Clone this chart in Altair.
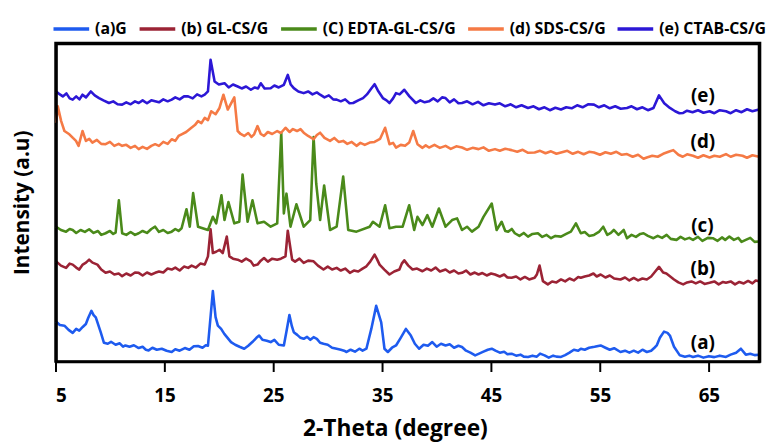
import altair as alt
import pandas as pd

series_names = ["(a)G", "(b) GL-CS/G", "(C) EDTA-GL-CS/G", "(d) SDS-CS/G", "(e) CTAB-CS/G"]
series_colors = ["#1E5BEF", "#9B2335", "#4A8A1A", "#F57A45", "#2C17D6"]

# (2-theta, intensity) pairs, one list per pattern
a_pts = [(5.06, 40.3), (5.4, 37), (5.82, 36.3), (6.2, 32), (6.58, 29), (6.9, 33), (7.18, 31.3), (7.5, 35),
         (7.79, 38), (8.0, 44), (8.30, 51.3), (8.5, 47), (8.70, 44.7), (9.15, 29.7), (9.45, 19), (9.8, 18),
         (10.1, 20), (10.52, 17), (10.9, 18.5), (11.2, 15), (11.42, 16.3), (11.8, 15), (12.2, 16.5),
         (12.64, 13.7), (13.0, 15), (13.3, 12), (13.55, 11.3), (13.9, 14), (14.3, 12), (14.76, 13),
         (15.2, 11), (15.67, 9.7), (16.0, 12.5), (16.4, 11), (16.88, 13.7), (17.3, 12), (17.7, 15.5),
         (18.09, 15.7), (18.5, 14), (18.8, 16.5), (19.0, 16), (19.45, 71.3), (19.7, 45), (19.91, 36.3),
         (20.21, 33), (20.5, 28), (20.8, 24), (21.12, 19.7), (21.5, 17), (21.9, 15), (22.33, 13), (22.7, 16),
         (23.1, 20), (23.45, 24), (23.7, 26.3), (24.0, 22), (24.4, 21), (24.76, 19.7), (25.1, 22), (25.5, 17),
         (25.97, 16.3), (26.2, 30), (26.48, 47), (26.7, 36), (26.88, 29.7), (27.2, 27), (27.5, 24),
         (27.79, 23), (28.1, 25), (28.4, 22), (28.70, 24.7), (29.0, 23), (29.3, 19), (29.61, 18), (30.0, 17),
         (30.4, 14), (30.82, 13), (31.2, 12), (31.5, 11), (31.73, 9.7), (32.1, 12), (32.5, 10), (32.9, 13),
         (33.2, 11), (33.55, 13), (34.0, 33), (34.45, 56.3), (34.91, 39.7), (35.21, 13), (35.52, 9.7),
         (35.9, 14), (36.27, 16.3), (36.7, 24), (37.18, 33), (37.63, 26.3), (38.0, 18), (38.39, 13),
         (38.8, 17), (39.2, 16), (39.6, 19.7), (40.0, 15), (40.4, 18), (40.82, 16.3), (41.2, 17.5),
         (41.6, 14), (42.0, 16), (42.33, 14.7), (42.7, 11), (43.1, 9), (43.54, 6.3), (43.9, 8), (44.3, 10),
         (44.7, 12), (45.06, 13), (45.4, 11), (45.8, 9), (46.2, 10), (46.5, 7.5), (46.88, 8), (47.3, 6),
         (47.7, 7), (48.0, 5), (48.39, 4.7), (48.8, 6), (49.2, 5), (49.5, 8), (49.91, 6.3), (50.3, 4),
         (50.7, 6), (51.0, 5), (51.42, 4.7), (51.8, 6.5), (52.2, 9), (52.6, 12), (53.0, 11), (53.24, 13),
         (53.6, 12), (54.0, 14), (54.5, 15), (55.06, 16.3), (55.5, 14), (55.9, 12), (56.3, 13.5),
         (56.88, 9.7), (57.3, 11), (57.7, 9), (58.1, 11), (58.5, 9), (58.9, 12), (59.3, 9.7), (59.7, 11),
         (60.0, 14), (60.21, 16.3), (60.5, 24), (60.88, 30.3), (61.2, 29), (61.42, 26.3), (61.8, 15),
         (62.33, 6.3), (62.8, 5), (63.2, 6), (63.54, 4.7), (64.0, 6), (64.5, 4), (65.0, 5.5), (65.5, 4.5),
         (66.0, 6), (66.57, 4.7), (67.0, 7), (67.5, 9), (67.94, 13), (68.39, 7), (68.8, 8), (69.2, 6.5),
         (69.6, 7)]

b_pts = [(5.06, 101.3), (5.5, 97), (5.97, 94.7), (6.3, 99), (6.58, 98), (6.9, 95), (7.18, 93), (7.5, 98),
         (7.8, 100), (8.09, 103), (8.4, 100), (8.85, 98), (9.2, 93), (9.6, 89.7), (10.0, 91), (10.4, 88),
         (10.8, 89), (11.12, 86.3), (11.5, 89), (11.9, 87), (12.3, 90), (12.64, 89.7), (13.0, 87),
         (13.4, 90), (13.8, 88), (14.15, 89.7), (14.5, 91), (14.9, 90), (15.3, 94), (15.67, 93), (16.0, 95),
         (16.4, 92), (16.8, 96), (17.18, 94.7), (17.5, 97), (17.9, 95), (18.3, 99), (18.7, 98), (19.0, 106.3),
         (19.24, 133.7), (19.45, 109.7), (19.75, 111), (20.06, 113), (20.36, 109.7), (20.73, 126.3),
         (20.97, 106.3), (21.3, 104), (21.73, 103), (22.1, 101), (22.5, 104), (22.94, 101.3), (23.2, 97),
         (23.55, 98), (23.85, 102), (24.15, 104.7), (24.5, 101), (24.9, 104), (25.36, 103), (25.7, 104),
         (26.12, 106.3), (26.33, 132.3), (26.73, 103), (27.0, 101), (27.4, 104), (27.79, 99.7), (28.2, 102),
         (28.7, 101.3), (29.1, 97), (29.61, 93), (30.0, 96), (30.4, 93), (30.82, 94.7), (31.2, 92),
         (31.6, 94), (32.03, 89.7), (32.4, 92), (32.8, 91), (33.2, 94), (33.55, 96.3), (33.9, 101),
         (34.3, 108), (34.5, 104), (34.76, 98), (35.2, 93), (35.67, 88), (36.1, 91), (36.58, 93), (36.8, 99),
         (37.03, 102.3), (37.4, 97), (37.79, 93), (38.2, 94), (38.7, 91.3), (39.1, 94), (39.5, 92),
         (39.9, 95), (40.3, 91), (40.82, 93), (41.2, 90), (41.6, 92), (42.0, 89), (42.33, 89.7), (42.7, 92),
         (43.1, 88), (43.5, 90), (43.85, 88), (44.2, 89.5), (44.6, 87), (45.0, 89), (45.36, 88), (45.8, 86),
         (46.2, 88), (46.5, 85), (46.88, 84.7), (47.3, 86), (47.7, 83), (48.1, 85.5), (48.5, 83),
         (49.0, 84.7), (49.2, 88), (49.45, 97), (49.76, 81.3), (50.21, 78), (50.6, 81), (51.0, 80),
         (51.42, 83), (51.8, 81), (52.2, 84), (52.6, 82), (53.0, 85.5), (53.24, 84.7), (53.6, 86), (54.0, 87),
         (54.4, 89), (54.7, 86), (55.06, 88), (55.5, 85), (55.9, 87), (56.3, 84), (56.88, 83), (57.3, 85),
         (57.7, 82), (58.1, 84.5), (58.5, 82), (58.9, 84), (59.3, 83), (59.7, 86), (60.0, 90), (60.42, 95.7),
         (60.8, 90), (61.1, 89), (61.42, 86.3), (61.8, 83), (62.2, 80), (62.64, 78), (63.0, 80), (63.4, 81),
         (63.8, 79), (64.2, 81), (64.6, 78.5), (65.06, 79.7), (65.5, 81), (65.9, 78), (66.3, 80.5),
         (66.57, 79.7), (67.0, 81), (67.4, 78), (67.8, 80.5), (68.2, 79), (68.6, 81.5), (69.0, 79),
         (69.3, 82), (69.6, 81.3)]

c_pts = [(5.06, 136.3), (5.5, 133), (5.97, 131.3), (6.3, 134), (6.58, 133), (6.9, 130), (7.3, 133),
         (7.7, 131), (8.09, 133.7), (8.5, 130), (8.9, 132), (9.2, 128), (9.6, 129.7), (10.0, 132),
         (10.3, 129), (10.52, 130.3), (10.82, 163), (11.12, 129.7), (11.5, 128), (11.9, 131), (12.3, 128),
         (12.64, 129.7), (13.0, 132), (13.4, 130), (13.8, 134), (14.15, 136.3), (14.5, 131), (14.9, 133),
         (15.3, 130), (15.67, 131.3), (16.0, 134), (16.3, 132), (16.58, 134.7), (17.03, 154), (17.33, 136.3),
         (17.64, 170.3), (18.09, 136.3), (19.0, 133), (19.45, 146.3), (19.76, 139.7), (20.24, 168),
         (20.52, 143), (20.88, 161.3), (21.42, 139.7), (21.88, 141.3), (22.18, 189), (22.64, 141.3),
         (23.09, 163), (23.55, 139.7), (24.15, 141.3), (24.76, 136.3), (25.36, 139.7), (25.73, 231.3),
         (25.97, 149.7), (26.21, 169.7), (26.58, 136.3), (27.12, 159), (27.79, 136.3), (28.39, 143),
         (28.7, 227), (28.94, 180), (29.3, 143), (29.67, 178), (30.21, 133), (30.82, 136.3), (31.42, 187),
         (31.88, 133), (32.64, 131.3), (33.85, 136.3), (34.15, 141.3), (34.76, 136.3), (35.27, 158),
         (35.67, 134.7), (36.27, 136.3), (36.88, 136.3), (37.48, 158), (37.94, 133), (38.24, 146.3),
         (38.7, 138), (39.15, 148), (39.6, 136.3), (40.21, 154.7), (40.82, 136.3), (41.42, 143),
         (41.88, 144.7), (42.33, 133), (42.79, 136.3), (43.24, 131.3), (43.85, 136.3), (44.3, 146.3),
         (45.06, 159.7), (45.51, 133), (45.97, 141.3), (46.3, 132), (46.57, 131.3), (46.9, 134),
         (47.18, 129.7), (47.6, 127), (48.0, 130), (48.39, 126.3), (48.8, 129), (49.3, 129.7), (49.7, 126),
         (50.1, 128), (50.51, 124.7), (50.9, 127), (51.42, 126.3), (51.9, 129), (52.33, 131.3),
         (52.79, 139.7), (53.24, 129.7), (53.6, 131), (54.0, 127), (54.45, 128), (54.9, 131), (55.3, 136.3),
         (55.67, 128), (56.0, 130), (56.27, 133), (56.7, 128), (57.18, 133), (57.48, 124.7), (57.9, 128),
         (58.3, 126), (58.7, 129), (59.0, 129.7), (59.4, 127), (59.91, 124.7), (60.3, 127), (60.7, 125),
         (61.12, 128), (61.5, 124), (62.03, 123), (62.4, 126), (62.8, 123.5), (63.2, 125), (63.54, 123),
         (64.0, 126), (64.4, 122), (64.9, 125), (65.36, 124.7), (65.8, 122), (66.2, 125.5), (66.5, 123),
         (66.88, 126.3), (67.3, 123), (67.7, 125), (68.0, 121), (68.39, 123), (68.8, 125), (69.2, 121),
         (69.6, 121.3)]

d_pts = [(5.06, 241.3), (5.21, 258), (5.52, 243), (5.82, 233), (6.27, 229.7), (6.6, 226), (6.88, 223),
         (7.12, 218), (7.48, 233), (7.79, 223), (8.1, 225), (8.39, 221.3), (8.8, 224), (9.2, 220),
         (9.6, 219.7), (10.0, 222), (10.4, 218), (10.8, 220), (11.12, 218), (11.5, 219), (11.9, 216),
         (12.3, 218), (12.64, 214.7), (13.0, 217), (13.4, 215), (13.8, 218), (14.15, 219.7), (14.5, 218),
         (14.9, 222), (15.3, 220), (15.67, 224.7), (16.0, 223), (16.3, 228), (16.58, 229.7), (17.0, 232),
         (17.48, 236.3), (17.8, 239), (18.09, 243), (18.4, 241), (18.7, 246.3), (19.0, 244), (19.3, 253),
         (19.7, 250), (20.06, 256.3), (20.42, 269.7), (20.82, 254.7), (21.42, 267), (21.73, 233), (22.0, 230),
         (22.33, 228), (22.7, 231), (23.0, 227), (23.24, 229.7), (23.55, 238), (23.85, 230), (24.15, 228),
         (24.5, 232), (24.9, 230), (25.36, 233), (25.7, 231), (26.12, 236.3), (26.5, 232), (26.8, 235),
         (27.18, 233), (27.5, 235), (27.79, 231.3), (28.2, 228), (28.7, 224.7), (29.0, 229), (29.3, 231.3),
         (29.7, 226), (30.21, 223), (30.6, 226), (31.0, 222), (31.42, 223), (31.8, 220), (32.2, 222),
         (32.64, 218), (33.0, 221), (33.4, 219), (33.85, 221.3), (34.3, 222), (34.8, 225), (35.27, 236.3),
         (35.67, 219.7), (36.0, 221), (36.27, 216.3), (36.7, 219), (37.1, 218), (37.48, 221.3), (37.85, 233),
         (38.24, 219.7), (38.7, 216), (39.0, 218.5), (39.3, 216.3), (39.8, 219), (40.3, 216), (40.82, 218),
         (41.3, 215), (41.8, 217.5), (42.33, 216.3), (42.8, 214), (43.3, 216), (43.85, 214.7), (44.3, 216.5),
         (44.8, 213), (45.36, 214.7), (45.8, 213), (46.3, 215), (46.88, 213.7), (47.4, 212), (47.9, 214),
         (48.4, 211), (49.0, 211.3), (49.5, 213), (50.0, 210.5), (50.5, 212.5), (51.0, 210), (51.42, 211.3),
         (52.0, 213), (52.5, 210), (53.0, 212), (53.5, 209.5), (54.0, 212), (54.45, 211.3), (55.0, 209),
         (55.5, 211.5), (56.0, 210), (56.5, 212), (57.0, 209), (57.48, 209.7), (58.0, 207), (58.5, 209),
         (59.0, 205), (59.3, 206.3), (59.8, 208), (60.3, 207), (60.8, 210), (61.3, 212), (61.73, 213.7),
         (62.2, 209), (62.6, 207), (63.0, 209.5), (63.54, 208), (64.0, 206), (64.5, 208.5), (65.06, 206.3),
         (65.5, 208), (66.0, 207), (66.57, 209.7), (67.0, 207), (67.5, 209), (68.09, 208), (68.5, 206),
         (69.0, 208.5), (69.6, 207)]

e_pts = [(5.06, 273), (5.4, 270), (5.67, 268), (6.0, 271), (6.3, 266), (6.58, 264.7), (6.9, 268), (7.2, 265),
         (7.48, 269.7), (7.8, 267), (8.24, 273), (8.6, 269), (9.0, 266.3), (9.4, 264), (9.91, 261.3),
         (10.3, 263), (10.7, 260), (11.12, 259.7), (11.5, 262), (11.9, 260), (12.3, 263), (12.64, 261.3),
         (13.0, 264), (13.4, 261), (13.8, 264), (14.15, 263), (14.5, 262), (14.9, 265), (15.3, 263),
         (15.67, 264.7), (16.0, 267), (16.4, 265), (16.8, 268), (17.18, 268), (17.6, 266), (18.0, 270),
         (18.4, 268), (18.7, 269.7), (19.0, 273), (19.24, 305), (19.61, 283), (20.0, 280), (20.52, 281.3),
         (20.9, 277), (21.3, 280), (21.73, 278), (22.1, 276), (22.5, 278), (22.94, 274.7), (23.3, 277),
         (23.6, 276), (23.85, 281.3), (24.2, 276), (24.76, 276.3), (25.1, 279), (25.5, 277), (25.97, 279.7),
         (26.33, 289.7), (26.6, 280), (26.88, 276.3), (27.3, 273), (27.79, 271.3), (28.2, 273), (28.6, 270),
         (29.0, 272), (29.3, 269.7), (29.7, 267), (30.1, 269), (30.5, 265), (30.82, 264.7), (31.2, 263),
         (31.6, 265), (32.0, 261), (32.33, 261.3), (32.8, 264), (33.24, 266.3), (33.6, 270), (34.0, 276),
         (34.3, 280.3), (34.6, 274), (35.06, 266.3), (35.4, 264), (35.67, 261.3), (36.0, 266), (36.27, 271.3),
         (36.6, 270), (37.03, 274.7), (37.5, 268), (38.09, 261.3), (38.5, 264), (38.9, 262), (39.3, 263),
         (39.7, 266), (40.1, 263), (40.5, 267), (40.82, 266.3), (41.2, 262), (41.6, 265), (42.0, 261),
         (42.33, 261.3), (42.8, 263), (43.3, 260), (43.8, 262.5), (44.3, 259), (44.8, 261), (45.36, 259.7),
         (45.8, 261), (46.3, 258), (46.8, 260), (47.3, 257), (47.8, 259), (48.39, 256.3), (48.9, 258),
         (49.4, 255), (49.9, 257), (50.4, 254), (50.9, 256.5), (51.42, 254.7), (51.9, 257), (52.4, 256),
         (52.9, 259), (53.4, 257), (53.9, 260), (54.45, 259.7), (54.9, 257), (55.4, 259), (55.9, 256),
         (56.4, 258), (56.9, 255.5), (57.48, 256.3), (57.9, 258), (58.4, 255), (58.9, 257), (59.4, 254),
         (59.91, 256.3), (60.42, 269), (60.9, 261), (61.42, 256.3), (61.9, 253), (62.3, 251), (62.64, 251.3),
         (63.0, 253.5), (63.5, 252), (64.0, 254), (64.5, 251.5), (65.06, 253), (65.5, 251), (66.0, 254),
         (66.57, 253), (67.0, 251), (67.5, 254), (68.0, 252), (68.5, 255), (69.0, 253), (69.6, 254.7)]

label_text = ["(e)", "(d)", "(c)", "(b)", "(a)"]
label_x = [64.45, 64.45, 64.4, 64.45, 64.45]
label_y = [268, 222, 137, 93, 19]

tick_values = [5, 15, 25, 35, 45, 55, 65]
x_domain = [5, 69.7]
y_domain = [0, 322]
# plot-box outline (left, top, right edges), in data units, a hair inside the axis range
frame_theta = [5.1, 5.1, 69.6, 69.6]
frame_intensity = [0, 320.9, 320.9, 0]

rows = []
for name, pts in zip(series_names, [a_pts, b_pts, c_pts, d_pts, e_pts]):
    for i, (x, y) in enumerate(pts):
        rows.append({"series": name, "theta": x, "intensity": y, "order": i})
df = pd.DataFrame(rows)
labels_df = pd.DataFrame({"text": label_text, "theta": label_x, "intensity": label_y})
frame_df = pd.DataFrame({"theta": frame_theta, "intensity": frame_intensity,
                         "order": list(range(len(frame_theta)))})

FONT = "Open Sans"
W, H = 712, 322

x_scale = alt.Scale(domain=x_domain, nice=False, zero=False)
y_scale = alt.Scale(domain=y_domain, nice=False, zero=False)

x_axis = alt.Axis(values=tick_values, title="2-Theta (degree)", grid=False,
                  tickSize=10, tickWidth=2, tickColor="black",
                  domainColor="black", domainWidth=2.5,
                  labelFont=FONT, labelFontSize=19, labelFontWeight="bold", labelColor="black",
                  labelPadding=15,
                  titleFont=FONT, titleFontSize=23, titleFontWeight="bold", titleColor="black",
                  titlePadding=13, titleX=343, titleAlign="center")
y_axis = alt.Axis(labels=False, ticks=False, domain=False, grid=False,
                  title="Intensity (a.u)", titleFont=FONT, titleFontSize=21,
                  titleFontWeight="bold", titleColor="black", titlePadding=23)

lines = alt.Chart(df).mark_line(strokeWidth=2.6, strokeJoin="round", clip=False).encode(
    x=alt.X("theta:Q", scale=x_scale, axis=x_axis),
    y=alt.Y("intensity:Q", scale=y_scale, axis=y_axis),
    color=alt.Color("series:N", scale=alt.Scale(domain=series_names, range=series_colors),
                    legend=alt.Legend(title=None, orient="none", direction="horizontal",
                                      legendX=-4, legendY=-34, symbolType="stroke",
                                      symbolSize=1300, symbolStrokeWidth=3.5,
                                      labelFont=FONT, labelFontSize=16, labelFontWeight="bold",
                                      labelColor="black", labelOffset=4, columnPadding=4,
                                      labelLimit=300)),
    order="order:Q",
)

texts = alt.Chart(labels_df).mark_text(font=FONT, fontSize=19, fontWeight="bold", color="black").encode(
    x=alt.X("theta:Q", scale=x_scale, axis=x_axis),
    y=alt.Y("intensity:Q", scale=y_scale, axis=y_axis),
    text="text:N",
)

frame = alt.Chart(frame_df).mark_line(color="#000000", strokeWidth=2.5, opacity=1, clip=False).encode(
    x=alt.X("theta:Q", scale=x_scale, axis=x_axis),
    y=alt.Y("intensity:Q", scale=y_scale, axis=y_axis),
    order="order:Q",
)

chart = alt.layer(lines, texts, frame).properties(
    width=W, height=H,
    autosize=alt.AutoSizeParams(type="none"),
    padding={"left": 48, "top": 33, "right": 6, "bottom": 84},
).configure_view(stroke="#000000", strokeWidth=2.5, strokeOpacity=1)

chart.save("out.html", embed_options={"renderer": "svg", "actions": False})
